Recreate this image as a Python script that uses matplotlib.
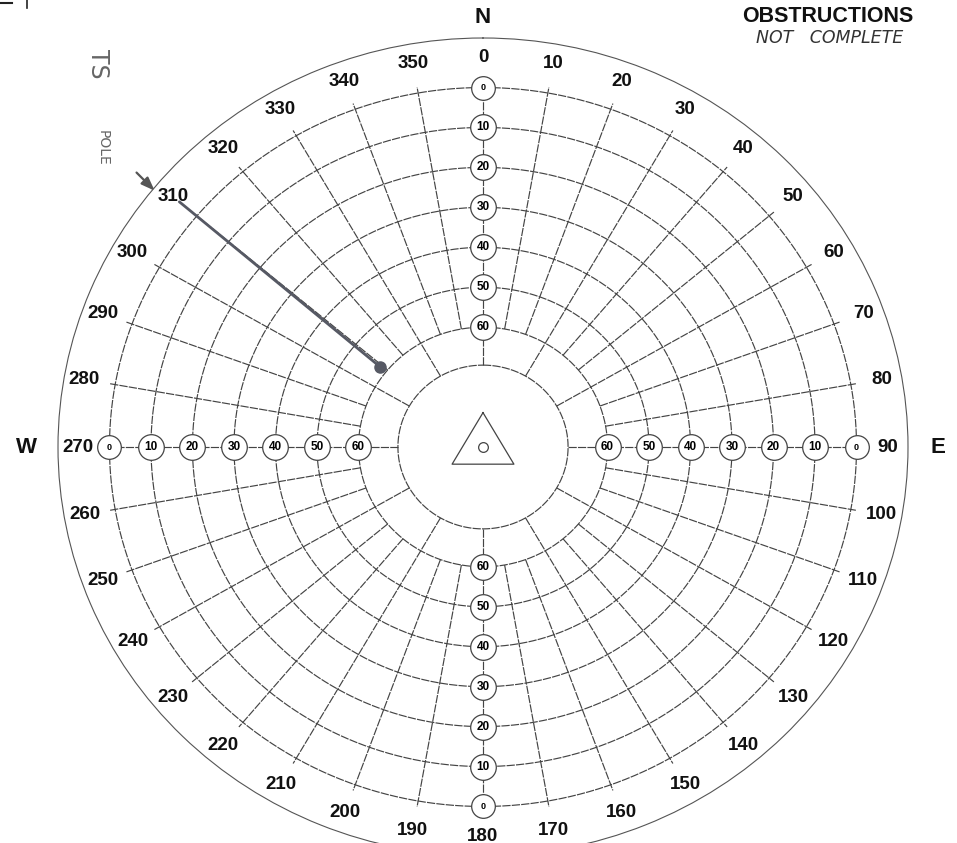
import numpy as np
import matplotlib.pyplot as plt
from matplotlib.lines import Line2D

plt.rcParams['font.family'] = ['Liberation Sans', 'DejaVu Sans']

# azimuth labels round the rim, every 10 deg
azimuths = np.arange(0, 360, 10)
# elevation circles (deg above horizon)
elevations = [0, 10, 20, 30, 40, 50, 60]
# azimuths where the elevation scale is printed
scale_azimuths = [0, 90, 180, 270]
cardinals = ['N', 'E', 'W']
cardinal_az = [0, 90, 270]

# hand drawn obstruction ("TS pole")
pole_az = [310, 309]
pole_el = [-5.5, 58]

W, H = 957, 843
R_MAX = 102.4      # zenith distance at outer rim
R_INNER = 20.5     # centre circle
R_SPOKE_END = 91.5
R_AZ_LABEL = 97.5
cardinal_r = [107.5, 109.5, 110]


def zd(el):
    # elevation -> zenith distance (polar radius)
    return 90 - np.asarray(el, dtype=float)


fig = plt.figure(figsize=(W / 100, H / 100), dpi=100)
ax = fig.add_axes([58 / W, 1 - 856 / H, 850 / W, 818 / H], projection='polar')
ax.set_aspect('auto')
ax.set_theta_zero_location('N')
ax.set_theta_direction(-1)
ax.set_ylim(0, R_MAX)
ax.set_xticks([])
ax.set_yticks([])
ax.grid(False)
ax.spines['polar'].set_color('#555555')
ax.spines['polar'].set_linewidth(0.8)

grid = dict(color='#444444', lw=0.85, ls=(0, (7, 1.0)), zorder=1)

# elevation rings + centre circle
t = np.linspace(0, 2 * np.pi, 721)
for el in elevations:
    ax.plot(t, np.full_like(t, zd(el)), **grid)
ax.plot(t, np.full_like(t, R_INNER), **grid)

# spokes: every 30 deg reach the centre circle, the rest stop at 60
for a in azimuths:
    r0 = R_INNER if a % 30 == 0 else zd(60)
    ax.plot([np.radians(a)] * 2, [r0, R_SPOKE_END], **grid)

# triangle and small circle at zenith
tri = np.radians([0, 120, 240, 0])
ax.plot(tri, [8.6] * 4, color='#444444', lw=0.9, zorder=3)
ax.plot(0, 0, 'o', ms=7, mfc='white', mec='#444444', mew=0.9, zorder=3)

# elevation scale in circles
for a in scale_azimuths:
    for el in elevations:
        small = el == 0
        ax.scatter(np.radians(a), zd(el), s=290 if small else 340,
                   facecolor='white', edgecolor='#444444', lw=0.9, zorder=4)
        ax.text(np.radians(a), zd(el), str(el), ha='center', va='center',
                fontsize=6.5 if small else 8.5, fontweight='bold', zorder=5)

# azimuth labels
for a in azimuths:
    ax.text(np.radians(a), R_AZ_LABEL, str(a), ha='center', va='center',
            fontsize=13.5, fontweight='bold', color='#111111')

for lab, a, r in zip(cardinals, cardinal_az, cardinal_r):
    ax.text(np.radians(a), r, lab, ha='center', va='center',
            fontsize=16, fontweight='bold', color='#111111')

# obstruction mark
pole_col = '#565964'
ax.plot(np.radians(pole_az), zd(pole_el), color=pole_col, lw=2.0,
        solid_capstyle='round', zorder=6)
ax.plot(np.radians(pole_az[-1]), zd(pole_el[-1]), 'o', ms=8, color=pole_col, zorder=6)
ax.annotate('', xy=(np.radians(309), 101.2), xytext=(np.radians(309.5), 108.8),
            arrowprops=dict(arrowstyle='-|>,head_length=0.8,head_width=0.3',
                            color='#555555', lw=1.6),
            annotation_clip=False)

# handwriting
fig.text(98 / W, 1 - 64 / H, 'TS', rotation=-90, fontsize=17, color='#666666',
         family='DejaVu Sans', ha='center', va='center')
fig.text(103 / W, 1 - 148 / H, 'POLE', rotation=-90, fontsize=10, color='#666666',
         family='DejaVu Sans', ha='center', va='center')
fig.text(828 / W, 1 - 17 / H, 'OBSTRUCTIONS', fontsize=15.5, fontweight='bold',
         ha='center', va='center', color='#111111')
fig.text(830 / W, 1 - 38 / H, 'NOT   COMPLETE', fontsize=12.5, style='italic',
         family='DejaVu Sans', ha='center', va='center', color='#333333')

# scan edge at the top left
fig.add_artist(Line2D([0, 12 / W], [1 - 3 / H] * 2, transform=fig.transFigure,
                      color='#222222', lw=1.5))
fig.add_artist(Line2D([27 / W] * 2, [1, 1 - 8 / H], transform=fig.transFigure,
                      color='#222222', lw=1.2))

fig.savefig('out.png', dpi=100)
